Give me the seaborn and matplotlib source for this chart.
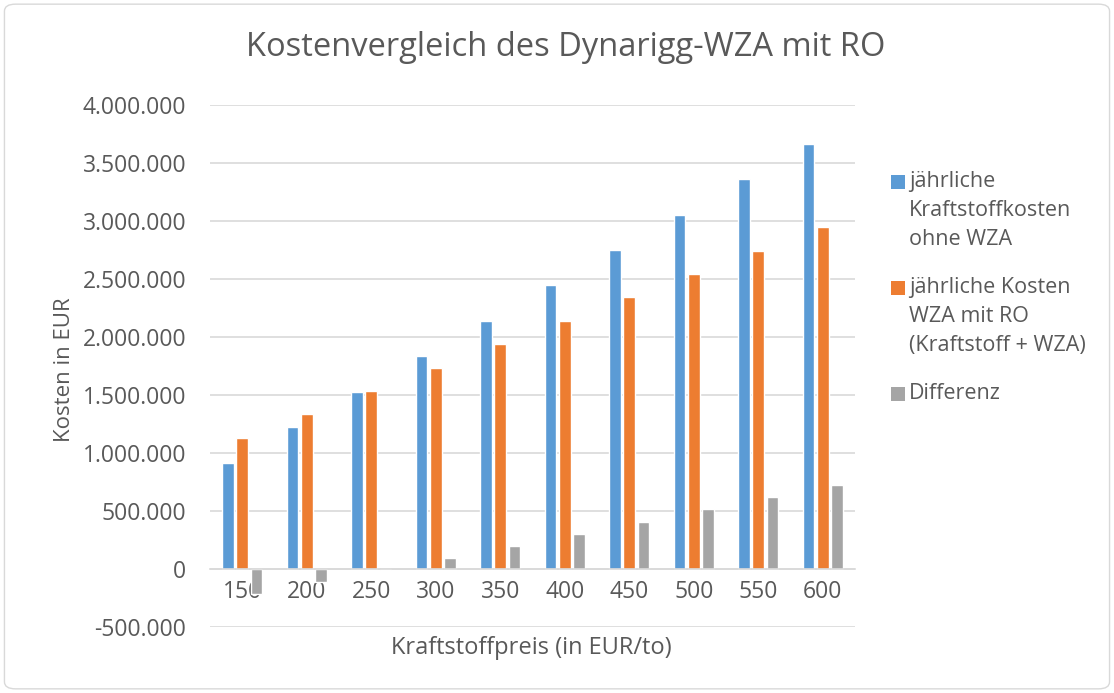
import matplotlib
matplotlib.use("Agg")
import matplotlib.pyplot as plt
import matplotlib.ticker as mticker
from matplotlib.patches import FancyBboxPatch, Rectangle
import numpy as np
import pandas as pd
import seaborn as sns

# values
preise = ["150", "200", "250", "300", "350", "400", "450", "500", "550", "600"]
kraftstoff_ohne_wza = [917000, 1222000, 1528000, 1833000, 2139000, 2445000, 2750000, 3056000, 3361000, 3667000]
kosten_wza_ro = [1130000, 1332000, 1533000, 1735000, 1937000, 2139000, 2341000, 2542000, 2744000, 2945000]
differenz = [-213000, -110000, -5000, 98000, 202000, 306000, 409000, 514000, 617000, 722000]

serien = ["jährliche\nKraftstoffkosten\nohne WZA",
          "jährliche Kosten\nWZA mit RO\n(Kraftstoff + WZA)",
          "Differenz"]
farben = ["#5B9BD5", "#ED7D31", "#A5A5A5"]
yticks = [-500000, 0, 500000, 1000000, 1500000, 2000000, 2500000, 3000000, 3500000, 4000000]

df = pd.DataFrame({
    "Preis": preise * 3,
    "Kosten": kraftstoff_ohne_wza + kosten_wza_ro + differenz,
    "Serie": [serien[0]] * 10 + [serien[1]] * 10 + [serien[2]] * 10,
})

sns.set_style("white")
plt.rcParams["font.family"] = ["Open Sans", "DejaVu Sans"]
textfarbe = "#595959"
W, H = 1114, 693

fig = plt.figure(figsize=(W / 100, H / 100), dpi=100)
ax = fig.add_axes([210 / W, 1 - 627 / H, 645 / W, 522 / H])

sns.barplot(data=df, x="Preis", y="Kosten", hue="Serie", order=preise,
            hue_order=serien, palette=farben, width=0.667, gap=0.185,
            saturation=1, ax=ax, legend=False)

ax.set_ylim(-500000, 4000000)
ax.set_yticks(yticks)
ax.yaxis.set_major_formatter(mticker.FuncFormatter(
    lambda v, p: f"{int(v):,}".replace(",", ".")))
ax.set_xlim(-0.5, 9.5)
ax.grid(axis="y", color="#D9D9D9", linewidth=1.2)
ax.set_axisbelow(True)
for s in ["top", "right", "left"]:
    ax.spines[s].set_visible(False)
ax.spines["bottom"].set_position(("data", 0))
ax.spines["bottom"].set_color("#D9D9D9")
ax.spines["bottom"].set_linewidth(1.2)
ax.tick_params(axis="both", length=0, labelsize=16.5, labelcolor=textfarbe)
ax.tick_params(axis="x", pad=8)
ax.tick_params(axis="y", pad=17)
ax.set_xlabel("")
ax.set_ylabel("")

fig.text(531 / W, 1 - 648 / H, "Kraftstoffpreis (in EUR/to)", ha="center",
         va="center", fontsize=17, color=textfarbe)
fig.text(65 / W, 1 - 370 / H, "Kosten in EUR", ha="center", va="center",
         rotation=90, fontsize=16, color=textfarbe)
fig.text(566 / W, 1 - 48 / H, "Kostenvergleich des Dynarigg-WZA mit RO",
         ha="center", va="center", fontsize=23.5, color=textfarbe)

# legend, marker aligned with the first text line like the reference
zeilen_y = [[182, 211, 239.5], [288, 317, 345.5], [393.5]]
for farbe, text, ys in zip(farben, serien, zeilen_y):
    fig.patches.append(Rectangle((891 / W, 1 - (ys[0] + 7) / H), 14 / W, 14 / H,
                                 transform=fig.transFigure, facecolor=farbe,
                                 edgecolor="none"))
    for zeile, y in zip(text.split("\n"), ys):
        fig.text(909 / W, 1 - y / H, zeile, ha="left", va="center",
                 fontsize=15.5, color=textfarbe)

fig.patches.append(FancyBboxPatch((0.004, 0.006), 0.992, 0.988,
                                  boxstyle="round,pad=0,rounding_size=0.01",
                                  transform=fig.transFigure, fill=False,
                                  edgecolor="#D9D9D9", linewidth=1))

fig.savefig("out.png", dpi=100, facecolor="white")
